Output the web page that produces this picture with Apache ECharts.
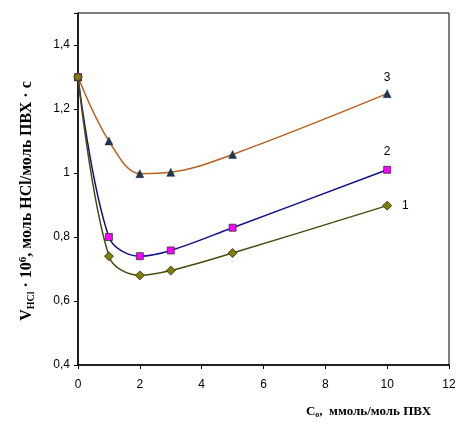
<!DOCTYPE html>
<html>
<head>
<meta charset="utf-8">
<script src="https://cdn.jsdelivr.net/npm/echarts@6/dist/echarts.min.js"></script>
<style>
  html, body { margin: 0; padding: 0; background: #fff; }
  #chart { width: 472px; height: 432px; }
</style>
</head>
<body>
<div id="chart"></div>
<script>
// концентрация стабилизатора, ммоль/моль ПВХ
const xValues = [0, 1, 2, 3, 5, 10];
// скорость дегидрохлорирования, кривые 1, 2, 3
const curve1 = [1.3, 0.74, 0.68, 0.695, 0.75, 0.898];
const curve2 = [1.3, 0.80, 0.74, 0.758, 0.829, 1.01];
const curve3 = [1.3, 1.10, 0.998, 1.002, 1.058, 1.248];
const curveNames = ['1', '2', '3'];

const chart = echarts.init(document.getElementById('chart'));

const toPoints = (ys, labelPos) => ys.map((y, i) => {
  const p = { value: [xValues[i], y] };
  if (i === ys.length - 1) {
    p.label = { show: true, position: labelPos };
  }
  return p;
});

const fmtComma = v => {
  if (v > 1.45) return '';
  return String(Math.round(v * 10) / 10).replace('.', ',');
};

const option = {
  animation: false,
  backgroundColor: '#fff',
  grid: {
    left: 78, right: 23, top: 13, bottom: 67,
    show: true, borderColor: '#000', borderWidth: 1, backgroundColor: '#fff'
  },
  xAxis: {
    type: 'value', min: 0, max: 12, interval: 2,
    axisLine: { lineStyle: { color: '#000', width: 1.5 } },
    axisTick: { show: true, length: 4, lineStyle: { color: '#000' } },
    axisLabel: { color: '#000', fontFamily: 'Liberation Sans', fontSize: 12, margin: 14 },
    splitLine: { show: false },
    name: '{b|C}{sub|o}{b|,  ммоль/моль ПВХ}',
    nameLocation: 'middle',
    nameGap: 40,
    nameTextStyle: {
      padding: [0, 0, 0, 210],
      rich: {
        b: { fontFamily: 'Liberation Serif', fontWeight: 'bold', fontSize: 13, color: '#000' },
        sub: { fontFamily: 'Liberation Serif', fontWeight: 'bold', fontSize: 8, color: '#000', verticalAlign: 'bottom', padding: [6, 0, 0, 0] }
      }
    }
  },
  yAxis: {
    type: 'value', min: 0.4, max: 1.5, interval: 0.2,
    axisLine: { lineStyle: { color: '#000', width: 1.5 } },
    axisTick: { show: true, length: 4, lineStyle: { color: '#000' } },
    axisLabel: { color: '#000', fontFamily: 'Liberation Sans', fontSize: 12, margin: 8, formatter: fmtComma },
    splitLine: { show: false },
    name: '{b|V}{sub|HCl}{b| · 10}{sup|6}{b|, моль HCl/моль ПВХ · с}',
    nameLocation: 'middle',
    nameRotate: 90,
    nameGap: 42,
    nameTextStyle: {
      padding: [0, 24, 0, 0],
      rich: {
        b: { fontFamily: 'Liberation Serif', fontWeight: 'bold', fontSize: 16, color: '#000' },
        sub: { fontFamily: 'Liberation Serif', fontWeight: 'bold', fontSize: 10, color: '#000', verticalAlign: 'bottom', padding: [7, 0, 0, 0] },
        sup: { fontFamily: 'Liberation Serif', fontWeight: 'bold', fontSize: 11, color: '#000', verticalAlign: 'top', padding: [0, 0, 7, 0] }
      }
    }
  },
  series: [
    {
      name: curveNames[0], type: 'line', smooth: 0.35,
      data: toPoints(curve1, 'right'),
      symbol: 'diamond', symbolSize: 9,
      lineStyle: { color: '#4a4a10', width: 1.5 },
      itemStyle: { color: '#808000', borderColor: '#222', borderWidth: 0.8 },
      label: { color: '#000', fontFamily: 'Liberation Sans', fontSize: 12, distance: 10, formatter: () => curveNames[0] },
      z: 5
    },
    {
      name: curveNames[1], type: 'line', smooth: 0.35,
      data: toPoints(curve2, 'top'),
      symbol: 'rect', symbolSize: 7,
      lineStyle: { color: '#10108a', width: 1.5 },
      itemStyle: { color: '#ff00ff', borderColor: '#333', borderWidth: 0.8 },
      label: { color: '#000', fontFamily: 'Liberation Sans', fontSize: 12, distance: 8, formatter: () => curveNames[1] },
      z: 4
    },
    {
      name: curveNames[2], type: 'line', smooth: 0.35,
      data: toPoints(curve3, 'top'),
      symbol: 'triangle', symbolSize: 8,
      lineStyle: { color: '#b8611e', width: 1.5 },
      itemStyle: { color: '#1f3550', borderColor: '#1f3550', borderWidth: 0.5 },
      label: { color: '#000', fontFamily: 'Liberation Sans', fontSize: 12, distance: 6, formatter: () => curveNames[2] },
      z: 2
    }
  ]
};

chart.setOption(option);
</script>
</body>
</html>
